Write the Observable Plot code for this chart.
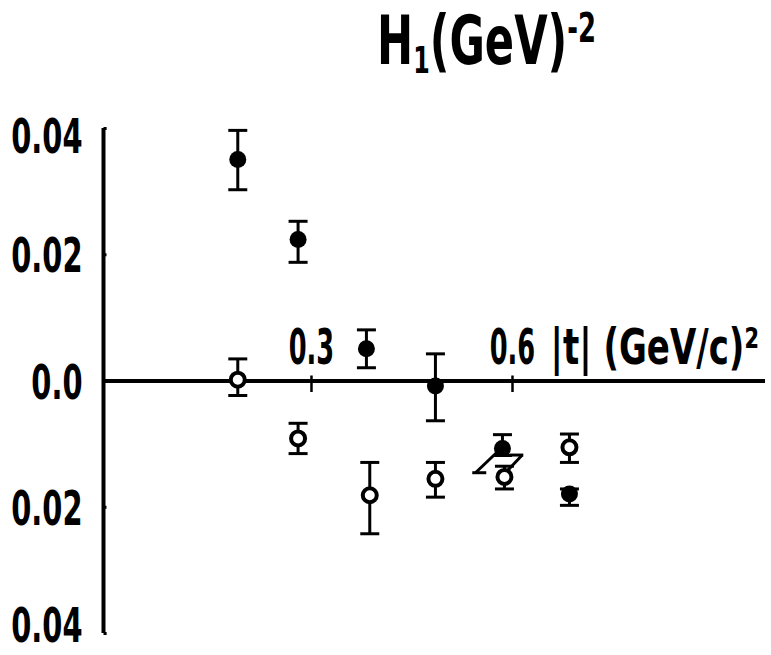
<!DOCTYPE html>
<html><head><meta charset="utf-8">
<script src="https://cdn.jsdelivr.net/npm/d3@7"></script>
<script src="https://cdn.jsdelivr.net/npm/@observablehq/plot@0.6"></script>
<style>
body{margin:0;background:#fff;overflow:hidden;}
#title{height:100px;position:relative;width:771px;}
#tt{position:absolute;left:377px;top:7px;font-family:"Liberation Sans Narrow","DejaVu Sans Condensed",sans-serif;font-weight:bold;font-size:60px;line-height:1;display:inline-block;transform:scale(0.8,1.12);transform-origin:top left;color:#000;white-space:nowrap;}
#tt sub{font-size:0.55em;vertical-align:-0.25em;}
#tt sup{font-size:0.6em;vertical-align:0.55em;}
svg text{font-family:"Liberation Sans Narrow","DejaVu Sans Condensed",sans-serif;font-weight:bold;}
</style></head><body>
<div id="title"><span id="tt">H<sub>1</sub>(GeV)<sup>-2</sup></span></div>
<div id="chart"></div>
<script>
// filled circles
const tFilled   = [0.19, 0.28, 0.382, 0.485, 0.585, 0.685];
const hFilled   = [0.0351, 0.0224, 0.0051, -0.0008, -0.0107, -0.0179];
const hFilledHi = [0.0397, 0.0253, 0.0081, 0.0043, -0.0085, -0.0171];
const hFilledLo = [0.0303, 0.0188, 0.0021, -0.0063, -0.0118, -0.0197];
// open circles
const tOpen   = [0.19, 0.28, 0.387, 0.485, 0.588, 0.685];
const hOpen   = [0.0002, -0.0091, -0.0181, -0.0155, -0.0152, -0.0105];
const hOpenHi = [0.0035, -0.0067, -0.0129, -0.0129, -0.0135, -0.0084];
const hOpenLo = [-0.0023, -0.0115, -0.0242, -0.0184, -0.0171, -0.0129];
// skewed error strokes near t = 0.59
const slashX1 = [0.5448, 0.6145];
const slashY1 = [-0.01453, -0.01173];
const slashX2 = [0.5788, 0.5910];
const slashY2 = [-0.01109, -0.01438];
const slashCapX = [0.5504, 0.6057];
const slashCapY = [-0.01453, -0.01173];
// axes
const yTicks = [0.04, 0.02, 0, -0.02, -0.04];
const yTickLabels = ["0.04", "0.02", "0.0", "0.02", "0.04"];
const xTicks = [0.3, 0.6];
const xTickLabels = ["0.3", "0.6"];
const xAxisLabel = "|t| (GeV/c)²";

const filled = tFilled.map((t, i) => ({t, h: hFilled[i], hi: hFilledHi[i], lo: hFilledLo[i]}));
const open = tOpen.map((t, i) => ({t, h: hOpen[i], hi: hOpenHi[i], lo: hOpenLo[i]}));
const slashes = slashX1.map((x, i) => ({x1: x, y1: slashY1[i], x2: slashX2[i], y2: slashY2[i]}));
const slashCaps = slashCapX.map((x, i) => ({x, y: slashCapY[i]}));
const yLab = yTicks.map((v, i) => ({v, label: yTickLabels[i]}));
const xLab = xTicks.map((v, i) => ({v, label: xTickLabels[i]}));
const xmin = -0.0104, xmax = 0.9776;
const ytop = d3.max(yTicks), ybot = d3.min(yTicks);

const hbar = {draw(ctx, size) { const w = Math.sqrt(size / Math.PI); ctx.moveTo(-w, 0); ctx.lineTo(w, 0); }};
const hright = {draw(ctx, size) { const w = Math.sqrt(size / Math.PI); ctx.moveTo(0, 0); ctx.lineTo(w, 0); }};
const vtick = {draw(ctx, size) { const w = Math.sqrt(size / Math.PI); ctx.moveTo(0, -w * 0.5); ctx.lineTo(0, w); }};

const caps = (data, key) => Plot.dot(data, {x: "t", y: key, symbol: hbar, r: 9.5, stroke: "black", strokeWidth: 3, fill: "none"});
const yLabelMark = (filter, dy) => Plot.text(yLab, {filter, x: xmin, y: "v", text: "label", textAnchor: "end", dx: -21, dy, fontSize: 44, className: "ylbl"});

const svg = Plot.plot({
  width: 771,
  height: 555,
  marginLeft: 103,
  marginRight: 6,
  marginTop: 28,
  marginBottom: 22,
  x: {domain: [xmin, xmax], axis: null},
  y: {domain: [ybot, ytop], axis: null},
  marks: [
    // y axis
    Plot.ruleX([xmin], {y1: ybot, y2: ytop, stroke: "black", strokeWidth: 4}),
    Plot.dot(yTicks, {x: xmin, y: d => d, symbol: hright, r: d => (Math.abs(d) === ytop ? 12 : 11), stroke: "black", strokeWidth: 3, fill: "none"}),
    yLabelMark(d => d.v === ytop, 9),
    yLabelMark(d => d.v === ybot, -7),
    yLabelMark(d => d.v !== ytop && d.v !== ybot, 2),
    // x axis
    Plot.ruleY([0], {stroke: "black", strokeWidth: 4}),
    Plot.dot(xTicks, {x: d => d, y: 0, symbol: vtick, r: 11, stroke: "black", strokeWidth: 2.5, fill: "none"}),
    Plot.text(xLab, {x: "v", y: 0, text: "label", textAnchor: "middle", dy: -33, fontSize: 42, className: "xlbl"}),
    Plot.text([xTicks[xTicks.length - 1]], {x: d => d, y: 0, text: () => xAxisLabel, textAnchor: "start", dx: 38, dy: -33, fontSize: 42, className: "xname"}),
    // skewed strokes
    Plot.link(slashes, {x1: "x1", y1: "y1", x2: "x2", y2: "y2", stroke: "black", strokeWidth: 3}),
    Plot.dot(slashCaps, {x: "x", y: "y", symbol: hbar, r: 7, stroke: "black", strokeWidth: 3, fill: "none"}),
    // open circles with error bars
    Plot.ruleX(open, {x: "t", y1: "lo", y2: "hi", stroke: "black", strokeWidth: 3}),
    caps(open, "hi"), caps(open, "lo"),
    Plot.dot(open, {x: "t", y: "h", r: 7, fill: "white", stroke: "black", strokeWidth: 4}),
    // filled circles with error bars
    Plot.ruleX(filled, {x: "t", y1: "lo", y2: "hi", stroke: "black", strokeWidth: 3}),
    caps(filled, "hi"), caps(filled, "lo"),
    Plot.dot(filled, {x: "t", y: "h", r: 8.5, fill: "black", stroke: "none"})
  ]
});
const squeeze = (sel, sx, sy) => svg.querySelectorAll(sel + " text").forEach(t => {
  const tr = t.getAttribute("transform") || "";
  t.setAttribute("transform", tr + ` scale(${sx},${sy})`);
});
squeeze(".ylbl", 0.73, 1.1);
squeeze(".xlbl", 0.68, 1.2);
squeeze(".xname", 0.9, 1.2);
document.getElementById("chart").appendChild(svg);
</script>
</body></html>
